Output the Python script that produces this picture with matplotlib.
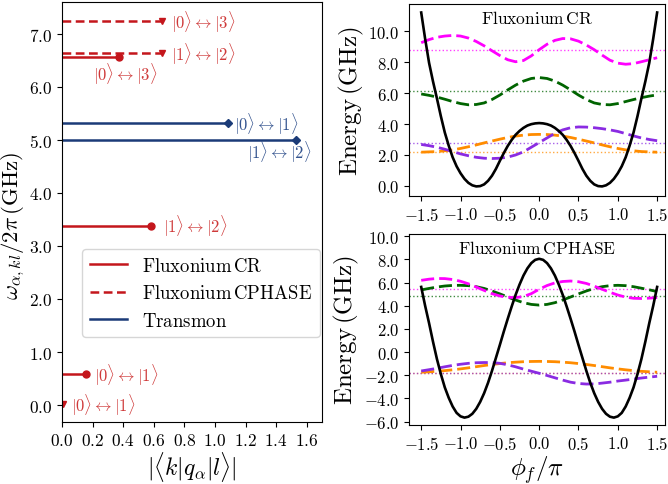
import matplotlib
matplotlib.use('Agg')
import matplotlib.pyplot as plt
from matplotlib.lines import Line2D
from matplotlib.ticker import FuncFormatter, MultipleLocator

plt.rcParams['mathtext.fontset'] = 'cm'
plt.rcParams['font.family'] = 'serif'
plt.rcParams['font.serif'] = ['cmr10', 'DejaVu Serif']
plt.rcParams['axes.formatter.use_mathtext'] = True

# Left panel: transition frequencies (GHz) and charge matrix elements.
crFreqs = [0.58, 3.38, 6.57]
crElems = [0.157, 0.58, 0.375]
crLabels = [r'$|0\rangle \leftrightarrow |1\rangle$',
            r'$|1\rangle \leftrightarrow |2\rangle$',
            r'$|0\rangle \leftrightarrow |3\rangle$']
cphaseFreqs = [0.02, 6.63, 7.24]
cphaseElems = [0.009, 0.653, 0.653]
cphaseLabels = [r'$|0\rangle \leftrightarrow |1\rangle$',
                r'$|1\rangle \leftrightarrow |2\rangle$',
                r'$|0\rangle \leftrightarrow |3\rangle$']
trFreqs = [5.31, 5.0]
trElems = [1.084, 1.53]
trLabels = [r'$|0\rangle \leftrightarrow |1\rangle$',
            r'$|1\rangle \leftrightarrow |2\rangle$']

# Right panels: flux grid for the wavefunctions (step 0.1) and for the
# potentials (step 0.05).
phi = [-1.5, -1.4, -1.3, -1.2, -1.1, -1.0, -0.9, -0.8, -0.7, -0.6, -0.5,
       -0.4, -0.3, -0.2, -0.1, 0.0, 0.1, 0.2, 0.3, 0.4, 0.5, 0.6, 0.7,
       0.8, 0.9, 1.0, 1.1, 1.2, 1.3, 1.4, 1.5]
phiFine = [-1.5, -1.45, -1.4, -1.35, -1.3, -1.25, -1.2, -1.15, -1.1, -1.05,
           -1.0, -0.95, -0.9, -0.85, -0.8, -0.75, -0.7, -0.65, -0.6, -0.55,
           -0.5, -0.45, -0.4, -0.35, -0.3, -0.25, -0.2, -0.15, -0.1, -0.05,
           0.0, 0.05, 0.1, 0.15, 0.2, 0.25, 0.3, 0.35, 0.4, 0.45, 0.5, 0.55,
           0.6, 0.65, 0.7, 0.75, 0.8, 0.85, 0.9, 0.95, 1.0, 1.05, 1.1, 1.15,
           1.2, 1.25, 1.3, 1.35, 1.4, 1.45, 1.5]

crPotential = [11.2, 9.5, 7.95, 6.75, 5.65, 4.5, 3.45, 2.6, 1.85, 1.27, 0.82,
               0.46, 0.2, 0.04, -0.03, -0.01, 0.1, 0.33, 0.66, 1.1, 1.62,
               2.12, 2.58, 2.97, 3.3, 3.55, 3.75, 3.9, 3.99, 4.04, 4.06,
               4.04, 3.99, 3.9, 3.75, 3.55, 3.3, 2.97, 2.58, 2.12, 1.62, 1.1,
               0.66, 0.33, 0.1, -0.01, -0.03, 0.04, 0.2, 0.46, 0.82, 1.27,
               1.85, 2.6, 3.45, 4.5, 5.65, 6.75, 7.95, 9.5, 11.2]
crWave0 = [2.18, 2.2, 2.22, 2.27, 2.33, 2.42, 2.53, 2.65, 2.78, 2.9, 3.02,
           3.13, 3.22, 3.28, 3.32, 3.33, 3.32, 3.28, 3.22, 3.13, 3.02, 2.9,
           2.78, 2.65, 2.53, 2.42, 2.33, 2.27, 2.22, 2.2, 2.18]
crWave1 = [2.68, 2.6, 2.5, 2.37, 2.22, 2.07, 1.95, 1.85, 1.79, 1.77, 1.79,
           1.86, 2.0, 2.2, 2.5, 2.8, 3.1, 3.4, 3.62, 3.76, 3.81, 3.8, 3.76,
           3.7, 3.62, 3.52, 3.38, 3.23, 3.1, 3.0, 2.92]
crWave2 = [5.94, 5.85, 5.74, 5.6, 5.45, 5.32, 5.24, 5.26, 5.36, 5.58, 5.87,
           6.2, 6.51, 6.77, 6.94, 7.0, 6.94, 6.77, 6.51, 6.2, 5.87, 5.58,
           5.36, 5.26, 5.24, 5.32, 5.45, 5.58, 5.7, 5.8, 5.88]
crWave3 = [9.25, 9.45, 9.6, 9.68, 9.72, 9.68, 9.55, 9.33, 9.05, 8.73, 8.42,
           8.15, 8.02, 8.1, 8.4, 8.8, 9.15, 9.4, 9.52, 9.5, 9.35, 9.1, 8.8,
           8.45, 8.12, 7.93, 7.86, 7.9, 8.02, 8.15, 8.28]
crEnergies = [2.22, 2.8, 6.15, 8.75]

cphasePotential = [5.63, 4.0, 2.5, 0.9, -0.6, -1.9, -3.05, -3.95, -4.7,
                   -5.25, -5.55, -5.66, -5.58, -5.33, -4.9, -4.3, -3.55,
                   -2.65, -1.62, -0.5, 0.62, 1.77, 2.87, 3.93, 4.94, 5.83,
                   6.61, 7.23, 7.69, 7.97, 8.06, 7.97, 7.69, 7.23, 6.61, 5.83,
                   4.94, 3.93, 2.87, 1.77, 0.62, -0.5, -1.62, -2.65, -3.55,
                   -4.3, -4.9, -5.33, -5.58, -5.66, -5.55, -5.25, -4.7, -3.95,
                   -3.05, -1.9, -0.6, 0.9, 2.5, 4.0, 5.63]
cphaseWave0 = [-1.74, -1.7, -1.66, -1.6, -1.53, -1.45, -1.36, -1.26, -1.16,
               -1.07, -0.99, -0.92, -0.87, -0.83, -0.81, -0.8, -0.81, -0.83,
               -0.87, -0.92, -0.99, -1.07, -1.16, -1.26, -1.36, -1.45, -1.53,
               -1.6, -1.66, -1.7, -1.74]
cphaseWave1 = [-1.63, -1.52, -1.4, -1.27, -1.15, -1.05, -0.97, -0.92, -0.9,
               -0.91, -0.97, -1.1, -1.27, -1.47, -1.65, -1.83, -2.02, -2.22,
               -2.42, -2.6, -2.71, -2.76, -2.75, -2.68, -2.6, -2.5, -2.42,
               -2.33, -2.24, -2.16, -2.09]
cphaseWave2 = [5.37, 5.5, 5.62, 5.71, 5.76, 5.77, 5.74, 5.65, 5.5, 5.28, 5.03,
               4.76, 4.5, 4.27, 4.12, 4.06, 4.12, 4.27, 4.5, 4.76, 5.03, 5.28,
               5.5, 5.65, 5.74, 5.77, 5.74, 5.65, 5.52, 5.38, 5.23]
cphaseWave3 = [6.2, 6.3, 6.36, 6.35, 6.27, 6.12, 5.9, 5.62, 5.33, 5.05, 4.85,
               4.73, 4.71, 4.8, 5.05, 5.43, 5.75, 5.98, 6.1, 6.14, 6.08, 5.93,
               5.7, 5.43, 5.17, 4.93, 4.75, 4.65, 4.63, 4.66, 4.71]
cphaseEnergies = [-1.82, -1.82, 4.83, 5.43]

waveColors = ['#ff8c00', '#8a2be2', '#006400', '#ff00ff']
red = '#c4161c'
redText = '#cf3a3a'
navy = '#1b3b78'
navyText = '#34548f'


def mathFormat(v, pos):
    return '$%.1f$' % v


fig = plt.figure(figsize=(6.68, 4.85), dpi=100)

# Left panel.
ax = fig.add_axes([0.0928, 0.1278, 0.3892, 0.866])
labelOffsets = {'cr': [(8, 0), (12, 0), (6, -17)],
                'cphase': [(8, 0), (9, 0), (9, 0)],
                'tr': [(6, 0), (-17, -12)]}
for i in range(len(crFreqs)):
    ax.plot([0, crElems[i]], [crFreqs[i], crFreqs[i]], color=red, lw=1.8,
            marker='o', ms=5, markevery=[1])
    dx, dy = labelOffsets['cr'][i]
    ax.annotate(crLabels[i], (crElems[i], crFreqs[i]), xytext=(dx, dy),
                textcoords='offset pixels', color=redText, fontsize=12,
                va='center', ha='left' if dy == 0 else 'center')
for i in range(len(cphaseFreqs)):
    ax.plot([0, cphaseElems[i]], [cphaseFreqs[i], cphaseFreqs[i]], color=red,
            lw=1.8, ls=(0, (3.5, 1.8)), marker='v', ms=5, markevery=[1])
    dx, dy = labelOffsets['cphase'][i]
    ax.annotate(cphaseLabels[i], (cphaseElems[i], cphaseFreqs[i]),
                xytext=(dx, dy), textcoords='offset pixels', color=redText,
                fontsize=12, va='center', ha='left')
for i in range(len(trFreqs)):
    ax.plot([0, trElems[i]], [trFreqs[i], trFreqs[i]], color=navy, lw=1.8,
            marker='D', ms=4.5, markevery=[1])
    dx, dy = labelOffsets['tr'][i]
    ax.annotate(trLabels[i], (trElems[i], trFreqs[i]), xytext=(dx, dy),
                textcoords='offset pixels', color=navyText, fontsize=12,
                va='center', ha='left' if dy == 0 else 'center')
ax.set_xlim(0, 1.7)
ax.set_ylim(-0.32, 7.6)
ax.xaxis.set_major_locator(MultipleLocator(0.2))
ax.yaxis.set_major_locator(MultipleLocator(1.0))
ax.xaxis.set_major_formatter(FuncFormatter(mathFormat))
ax.yaxis.set_major_formatter(FuncFormatter(mathFormat))
ax.tick_params(labelsize=12.5)
ax.set_xlabel(r'$|\langle k|q_\alpha|l\rangle|$', fontsize=17, labelpad=1)
ax.set_ylabel(r'$\omega_{\alpha,kl}/2\pi\,(\mathrm{GHz})$', fontsize=16.5)
ax.yaxis.set_label_coords(-0.135, 0.47)
handles = [Line2D([], [], color=red, lw=1.8),
           Line2D([], [], color=red, lw=1.8, ls=(0, (3.5, 1.8))),
           Line2D([], [], color=navy, lw=1.8)]
ax.legend(handles, [r'$\mathrm{Fluxonium\,CR}$',
                    r'$\mathrm{Fluxonium\,CPHASE}$',
                    r'$\mathrm{Transmon}$'],
          loc='lower left', bbox_to_anchor=(0.077, 0.202), borderaxespad=0,
          fontsize=13.5)


def energyPanel(rect, potential, waves, energies, title, ylim, showXlabel):
    a = fig.add_axes(rect)
    for e, c in zip(energies, waveColors):
        a.axhline(e, color=c, lw=1.0, ls=':', alpha=0.75)
    for w, c in zip(waves, waveColors):
        a.plot(phi, w, color=c, lw=2.0, ls=(0, (4.7, 1.8)))
    a.plot(phiFine, potential, color='black', lw=1.9)
    a.set_xlim(-1.655, 1.6)
    a.set_ylim(*ylim)
    a.xaxis.set_major_locator(MultipleLocator(0.5))
    a.yaxis.set_major_locator(MultipleLocator(2.0))
    a.xaxis.set_major_formatter(FuncFormatter(mathFormat))
    a.yaxis.set_major_formatter(FuncFormatter(mathFormat))
    a.tick_params(labelsize=12)
    a.text(0.5, 0.932, title, transform=a.transAxes, ha='center',
           va='center', fontsize=12.5)
    a.set_ylabel(r'$\mathrm{Energy}\,(\mathrm{GHz})$', fontsize=18,
                 labelpad=2)
    if showXlabel:
        a.set_xlabel(r'$\phi_f/\pi$', fontsize=18, labelpad=1)
    return a


energyPanel([0.6123, 0.5938, 0.3832, 0.3959], crPotential,
            [crWave0, crWave1, crWave2, crWave3], crEnergies,
            r'$\mathrm{Fluxonium\,CR}$', (-0.65, 11.75), False)
energyPanel([0.6123, 0.1216, 0.3832, 0.3938], cphasePotential,
            [cphaseWave0, cphaseWave1, cphaseWave2, cphaseWave3],
            cphaseEnergies, r'$\mathrm{Fluxonium\,CPHASE}$', (-6.3, 10.2),
            True)

fig.savefig('out.png', dpi=100)
